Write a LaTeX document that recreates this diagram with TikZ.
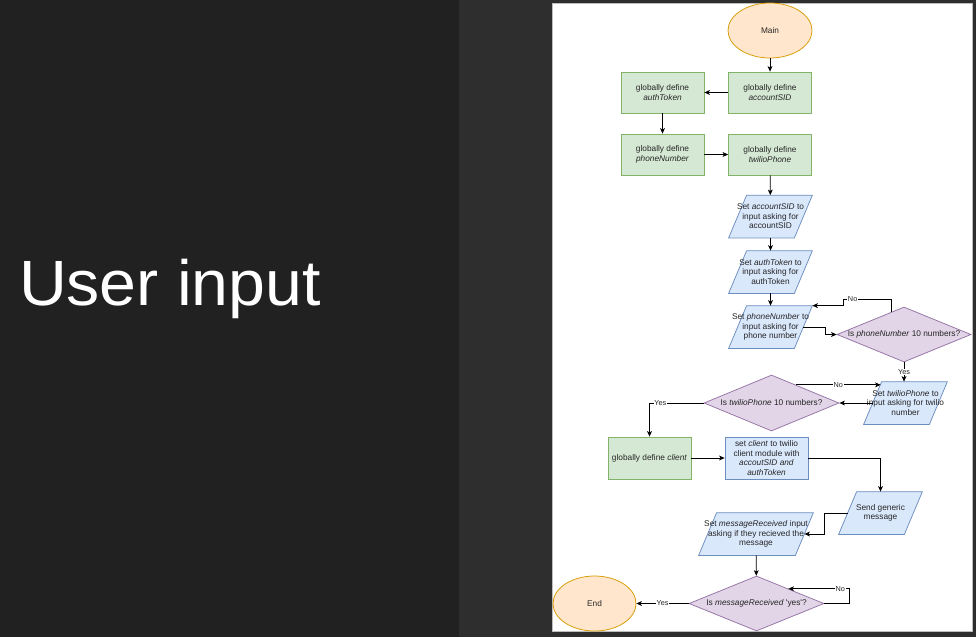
\documentclass[tikz,border=0pt]{standalone}
\usepackage{fontspec}
\setmainfont{Liberation Sans}
\usetikzlibrary{shapes.geometric,arrows.meta,calc}

\definecolor{panelL}{HTML}{212121}
\definecolor{panelR}{HTML}{2E2E2E}
\definecolor{pageedge}{HTML}{BDBDBD}
\definecolor{grnfill}{HTML}{D5E8D4}\definecolor{grnline}{HTML}{82B366}
\definecolor{blufill}{HTML}{DAE8FC}\definecolor{bluline}{HTML}{6C8EBF}
\definecolor{purfill}{HTML}{E1D5E7}\definecolor{purline}{HTML}{9673A6}
\definecolor{orgfill}{HTML}{FFE6CC}\definecolor{orgline}{HTML}{D79B00}
\definecolor{ink}{HTML}{262626}

\pgfdeclarelayer{shapes}
\pgfsetlayers{shapes,main}

% one centred line of node text, allowed to run past the shape
\newcommand\mkl[1]{\makebox[0pt]{#1}}
% parallelogram outline drawn behind an input/output node
\newcommand\ioshape[1]{%
  \begin{pgfonlayer}{shapes}
    \draw[ioline] ([xshift=9pt]#1.north west) -- ([xshift=9pt]#1.north east)
      -- ([xshift=-9pt]#1.south east) -- ([xshift=-9pt]#1.south west) -- cycle;
  \end{pgfonlayer}}

\tikzset{
  base/.style={inner sep=0pt, align=center, text=ink,
    font=\fontsize{8.3}{9.5}\selectfont, line width=0.75pt},
  defbox/.style={base, rectangle, draw=grnline, fill=grnfill,
    minimum width=83, minimum height=41},
  procbox/.style={base, rectangle, draw=bluline, fill=blufill,
    minimum width=83, minimum height=42},
  iobox/.style={base, rectangle, minimum width=65, minimum height=42},
  ioline/.style={draw=bluline, fill=blufill, line width=0.75pt},
  decision/.style={base, diamond, aspect=2.4, draw=purline, fill=purfill,
    minimum width=135, minimum height=55},
  terminal/.style={base, ellipse, draw=orgline, fill=orgfill,
    minimum width=84, minimum height=55},
  arr/.style={draw=black, line width=0.75pt,
    -{Stealth[length=5.5pt,width=4.8pt,inset=1.4pt]}},
  lbl/.style={fill=white, inner sep=0.6pt, text=ink,
    font=\fontsize{7.3}{8}\selectfont},
}

\begin{document}
\begin{tikzpicture}[x=1pt, y=-1pt]
\useasboundingbox (0,0) rectangle (976,637);

% backdrop: dark title panel, editor area and the white page
\begin{pgfonlayer}{shapes}
  \fill[panelL] (0,0) rectangle (459,637);
  \fill[panelR] (459,0) rectangle (976,637);
  \filldraw[fill=white, draw=pageedge, line width=0.8pt] (552.5,3) rectangle (972.5,631);
\end{pgfonlayer}

\node[anchor=base west, inner sep=0pt, text=white,
      font=\fontsize{64}{70}\selectfont] (title) at (18.8,305) {\scalebox{1.035}[1]{User input}};

% global definitions
\node[terminal] (main) at (770,30.5) {\mkl{Main}};
\node[defbox] (accsid) at (770,92.5) {\mkl{globally define}\\\mkl{\textit{accountSID}}};
\node[defbox] (auth) at (662.5,92.5) {\mkl{globally define}\\\mkl{\textit{authToken}}};
\node[defbox] (phone) at (662.5,154.5) {\mkl{globally define}\\\mkl{\textit{phoneNumber}}};
\node[defbox] (twil) at (770,154.5) {\mkl{globally define}\\\mkl{\textit{twilioPhone}}};

% user input
\node[iobox] (in1) at (770.5,216.5) {\mkl{Set \textit{accountSID} to}\\\mkl{input asking for}\\\mkl{accountSID}};
\ioshape{in1}
\node[iobox] (in2) at (770.5,272) {\mkl{Set \textit{authToken} to}\\\mkl{input asking for}\\\mkl{authToken}};
\ioshape{in2}
\node[iobox] (in3) at (770.5,327) {\mkl{Set \textit{phoneNumber} to}\\\mkl{input asking for}\\\mkl{phone number}};
\ioshape{in3}
\node[decision, minimum width=134] (d1) at (904,334.5) {\mkl{Is \textit{phoneNumber} 10 numbers?}};
\node[iobox] (in4) at (905.5,403) {\mkl{Set \textit{twilioPhone} to}\\\mkl{input asking for twilio}\\\mkl{number}};
\ioshape{in4}
\node[decision, minimum height=56] (d2) at (771.5,403) {\mkl{Is \textit{twilioPhone} 10 numbers?}};

% client and message
\node[defbox, minimum height=42] (cli) at (649.5,458) {\mkl{globally define \textit{client}}};
\node[procbox] (setc) at (766.5,458) {\mkl{set \textit{client} to twilio}\\\mkl{client module with}\\\mkl{\textit{accoutSID and}}\\\mkl{\textit{authToken}}};
\node[iobox] (send) at (880.5,513) {\mkl{Send generic}\\\mkl{message}};
\ioshape{send}
\node[iobox, minimum width=96] (msg) at (756,534) {\mkl{Set \textit{messageReceived} input}\\\mkl{asking if they recieved the}\\\mkl{message}};
\ioshape{msg}
\node[decision] (d3) at (756.5,603.5) {\mkl{Is \textit{messageReceived} \textquotesingle yes\textquotesingle?}};
\node[terminal, minimum width=83] (endn) at (594.5,603.5) {\mkl{End}};

% connectors
\draw[arr] (main) -- (accsid);
\draw[arr] (accsid) -- (auth);
\draw[arr] (auth) -- (phone);
\draw[arr] (phone) -- (twil);
\draw[arr] (twil) -- (in1);
\draw[arr] (in1) -- (in2);
\draw[arr] (in2) -- (in3);
\draw[arr] (in3.east) -- ++(22,0) |- (d1.west);

\coordinate (d1no) at ($(d1.north)!0.19!(d1.west)$);
\coordinate (d1bend) at (843,299);
\draw[arr] (d1no) |- node[lbl, pos=0.9] {No} (d1bend) |- ([xshift=9pt]in3.north east);
\draw[arr] (d1.south) -- node[lbl] {Yes} (d1.south |- in4.north);

\draw[arr] (in4.west) -- (d2.east);
\coordinate (d2no) at ($(d2.north)!0.36!(d2.east)$);
\draw[arr] (d2no) -- node[lbl] {No} ($(d2no -| in4.west)+(8,0)$);
\draw[arr] (d2.west) -| node[lbl, pos=0.4] {Yes} (cli.north);

\draw[arr] (cli) -- (setc);
\draw[arr] (setc.east) -| (send.north);
\draw[arr] (send.west) -- ++(-23,0) |- (msg.east);
\draw[arr] (msg) -- (d3);

\coordinate (d3no) at ($(d3.north)!0.47!(d3.east)$);
\draw[arr] (d3.east) -- ++(25,0) |- node[lbl, pos=0.575] {No} (d3no);
\draw[arr] (d3.west) -- node[lbl] {Yes} (endn.east);
\end{tikzpicture}
\end{document}
